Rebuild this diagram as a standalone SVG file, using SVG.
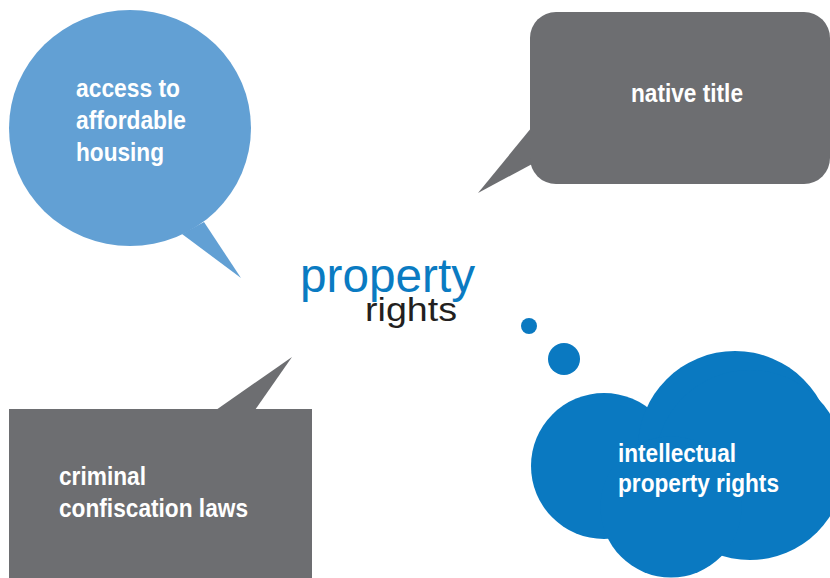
<svg xmlns="http://www.w3.org/2000/svg" width="830" height="578" viewBox="0 0 830 578">
<style>
.lbl{font-family:"Liberation Sans",Arial,sans-serif;font-weight:bold;font-size:25px;fill:#ffffff}
.gray{fill:#6d6e71}
.lblue{fill:#62a0d4}
.dblue{fill:#0a79c1}
</style>
<rect width="830" height="578" fill="#ffffff"/>
<g id="connectors">
  <path class="lblue" d="M182,234 L241,278 L204,222 Z"/>
  <path class="gray" d="M532,127 L478,193 L534,163 Z"/>
  <path class="gray" d="M216,410 L292,357 L255,410 Z"/>
  <circle class="dblue" cx="529" cy="326" r="8"/>
  <circle class="dblue" cx="564" cy="359" r="16"/>
</g>
<g id="node-housing">
  <ellipse class="lblue" cx="130" cy="128" rx="121" ry="118"/>
  <text class="lbl" x="76" y="97" textLength="104" lengthAdjust="spacingAndGlyphs">access to</text>
  <text class="lbl" x="76" y="129" textLength="110" lengthAdjust="spacingAndGlyphs">affordable</text>
  <text class="lbl" x="76" y="161" textLength="88" lengthAdjust="spacingAndGlyphs">housing</text>
</g>
<g id="node-native">
  <rect class="gray" x="530" y="12" width="300" height="172" rx="26" ry="26"/>
  <text class="lbl" x="631" y="102" textLength="112" lengthAdjust="spacingAndGlyphs">native title</text>
</g>
<g id="node-center">
  <text x="300" y="292" font-family="Liberation Sans,Arial,sans-serif" font-size="48" fill="#0a7bc2" textLength="175" lengthAdjust="spacingAndGlyphs">property</text>
  <text x="365" y="321" font-family="Liberation Sans,Arial,sans-serif" font-size="33" fill="#231f20" textLength="92" lengthAdjust="spacingAndGlyphs">rights</text>
</g>
<g id="node-criminal">
  <rect class="gray" x="9" y="409" width="303" height="169"/>
  <text class="lbl" x="59" y="485" textLength="87" lengthAdjust="spacingAndGlyphs">criminal</text>
  <text class="lbl" x="59" y="517" textLength="189" lengthAdjust="spacingAndGlyphs">confiscation laws</text>
</g>
<g id="node-ip">
  <circle class="dblue" cx="604" cy="466" r="73"/>
  <circle class="dblue" cx="735" cy="448" r="97"/>
  <circle class="dblue" cx="750" cy="465" r="95"/>
  <circle class="dblue" cx="671" cy="507" r="70.5"/>
  <text class="lbl" x="618" y="462" textLength="118" lengthAdjust="spacingAndGlyphs">intellectual</text>
  <text class="lbl" x="618" y="492" textLength="161" lengthAdjust="spacingAndGlyphs">property rights</text>
</g>
</svg>
